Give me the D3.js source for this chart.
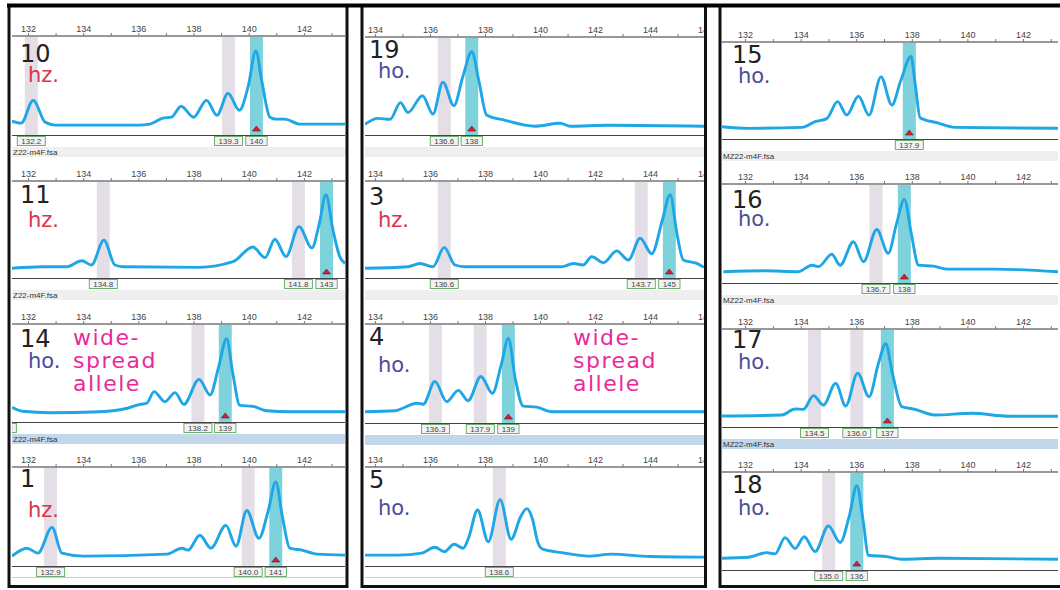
<!DOCTYPE html>
<html>
<head>
<meta charset="utf-8" />
<script src="https://cdn.jsdelivr.net/npm/d3@7"></script>
<style>
  body { margin: 0; background: #fff; }
  svg { display: block; }
  .tick text { font: 9px "Liberation Sans", Arial, sans-serif; fill: #444; }
</style>
</head>
<body>
<svg id="chart" width="1060" height="590"></svg>
<script>
// sample numbers and genotype calls, column by column (top to bottom)
var samples = [["10", "11", "14", "1"], ["19", "3", "4", "5"], ["15", "16", "17", "18"]];
var calls = [["hz.", "hz.", "ho.", "hz."], ["ho.", "hz.", "ho.", "ho."], ["ho.", "ho.", "ho.", "ho."]];
var widespread = ["14", "4"];
var fileNames = ["Z22-m4F.fsa", "", "MZ22-m4F.fsa"];

// traces: [size in bp, relative signal 0-100]
var trace10 = [[131.42,14],[131.75,12],[132.19,35],[132.62,13],[133.0,10],[134.5,10],[136.0,10],[136.42,11],[136.89,17],[137.2,18],[137.55,29],[138.0,18],[138.47,35],[138.85,20],[139.25,42],[139.66,25],[139.98,49],[140.26,85],[140.47,55],[140.77,18],[141.0,16],[141.3,16],[141.86,11],[143.49,11]];
var trace11 = [[131.42,10],[132.54,11.6],[133.4,11.6],[133.95,17.8],[134.3,13.4],[134.75,39],[135.15,13.4],[135.44,11.6],[138.2,11],[139.43,16.8],[140.15,32],[140.59,21],[140.95,40],[141.35,22],[141.82,53],[142.29,31],[142.55,55],[142.8,86],[143.05,50],[143.3,22],[143.49,15]];
var trace14 = [[131.42,15],[131.8,11],[132.8,9.5],[134.6,10.5],[135.6,14],[136.06,18],[136.3,19],[136.57,31],[136.96,20.7],[137.33,30],[137.65,18],[138.2,43.5],[138.6,27.5],[138.9,55],[139.2,85],[139.42,50],[139.68,17],[140.15,16],[140.65,11.5],[141.5,10.5],[143.49,10.5]];
var trace1 = [[131.42,10],[131.96,18],[132.36,13],[132.87,39],[133.23,13],[134.0,10],[137.03,12],[137.58,18],[137.8,16],[138.23,31],[138.63,18],[139.17,41],[139.54,20],[139.93,56],[140.37,28],[140.7,55],[140.98,85],[141.22,50],[141.49,18],[141.93,16],[142.47,12],[143.49,11]];
var trace19 = [[133.64,11],[134.1,17],[134.55,16],[134.93,33],[135.2,23],[135.73,40],[136.11,21.4],[136.47,54],[136.87,30],[137.2,60],[137.52,85],[137.78,55],[138.06,20.4],[138.73,15],[139.82,9],[140.73,12],[141.1,9],[142.5,10],[145.96,9]];
var trace3 = [[133.64,10],[135.2,11.6],[135.64,15],[136.11,11.6],[136.52,31.6],[136.91,13.4],[137.27,11.6],[140.79,11.6],[141.21,15],[141.57,13.4],[141.88,22],[142.3,15.8],[142.79,28],[143.21,18.5],[143.64,41],[144.06,25],[144.45,60],[144.73,86],[144.98,45],[145.21,18.5],[145.7,15],[145.96,11]];
var trace4 = [[133.64,11.4],[134.73,12.4],[135.52,20],[135.76,19],[136.18,42],[136.61,21.5],[137.03,33],[137.39,22.5],[137.85,47],[138.27,30],[138.6,60],[138.85,85.5],[139.1,45],[139.39,17],[139.88,16],[140.42,11.4],[145.96,11.4]];
var trace5 = [[133.64,11],[134.85,11],[135.7,13],[136.18,19],[136.52,14.5],[136.88,22],[137.21,18],[137.4,28],[137.73,56.5],[138.12,24.5],[138.55,67],[138.95,27],[139.3,50],[139.52,58],[139.72,48],[139.92,24],[140.1,17],[140.79,13.5],[141.76,10],[142.61,12],[144.0,9.6],[145.96,9]];
var trace15 = [[131.17,12.7],[132.12,11],[134.04,12],[134.52,17.8],[134.94,21],[135.33,38.5],[135.66,24.7],[136.08,44],[136.46,24.7],[136.89,64],[137.28,35],[137.6,60],[137.97,85],[138.12,57],[138.3,22],[138.9,16.8],[139.55,12],[143.26,11]];
var trace16 = [[131.22,11.4],[132.72,12.4],[133.92,11.4],[134.4,18],[134.64,16.5],[135.12,29],[135.42,18],[135.9,41.7],[136.26,21.5],[136.74,54],[137.15,30],[137.45,60],[137.73,84.5],[137.98,50],[138.24,18],[138.77,17],[139.31,14],[141.0,14],[143.26,11.4]];
var trace17 = [[131.17,11.2],[133.32,12.2],[133.8,18.4],[134.1,18],[134.46,32],[134.82,22.4],[135.26,44.5],[135.62,21.4],[136.05,55],[136.46,31],[136.8,65],[137.06,85],[137.3,55],[137.64,20.8],[138.12,18],[138.83,12.2],[140.15,14],[141.5,11],[143.26,11]];
var trace18 = [[131.17,12],[132.12,13],[132.78,17.7],[133.08,16.5],[133.44,33],[133.8,22],[134.13,34],[134.52,18.7],[135.0,45],[135.42,28],[135.75,55],[136.02,86],[136.25,50],[136.44,15],[137.1,13.6],[137.64,11],[139.0,12],[143.26,11]];

// bins: [centre bp, label, called allele]
var bins10 = [[132.12,"132.2",0],[139.27,"139.3",0],[140.28,"140",1]];
var bins11 = [[134.73,"134.8",0],[141.8,"141.8",0],[142.82,"143",1]];
var bins14 = [[131.07,"131.0",0],[138.16,"138.2",0],[139.15,"139",1]];
var bins1 = [[132.82,"132.9",0],[139.98,"140.0",0],[140.98,"141",1]];
var bins19 = [[136.52,"136.6",0],[137.52,"138",1]];
var bins3 = [[136.52,"136.6",0],[143.68,"143.7",0],[144.7,"145",1]];
var bins4 = [[136.2,"136.3",0],[137.83,"137.9",0],[138.85,"139",1]];
var bins5 = [[138.52,"138.6",0]];
var bins15 = [[137.91,"137.9",1]];
var bins16 = [[136.71,"136.7",0],[137.73,"138",1]];
var bins17 = [[134.5,"134.5",0],[136.02,"136.0",0],[137.12,"137",1]];
var bins18 = [[135.01,"135.0",0],[136.02,"136",1]];

var traces = {"10": trace10, "11": trace11, "14": trace14, "1": trace1, "19": trace19, "3": trace3,
  "4": trace4, "5": trace5, "15": trace15, "16": trace16, "17": trace17, "18": trace18};
var bins = {"10": bins10, "11": bins11, "14": bins14, "1": bins1, "19": bins19, "3": bins3,
  "4": bins4, "5": bins5, "15": bins15, "16": bins16, "17": bins17, "18": bins18};

// layout of the three screenshot columns
var cols = [
  { x0: 12, x1: 345, dom: [131.42, 143.49], rows: [[36, 135], [181, 278], [324, 422], [467, 566]], frame: [9, 347], numX: 8, callX: 16, wideX: 61 },
  { x0: 365, x1: 704, dom: [133.64, 145.96], rows: [[37, 135], [181, 278], [324, 423], [467, 566]], frame: [362, 705.5], numX: 4, callX: 13, wideX: 208 },
  { x0: 722, x1: 1058, dom: [131.17, 143.26], rows: [[42, 139], [184, 283], [329, 427], [472, 570]], frame: [720, 1063], numX: 10, callX: 16, wideX: 0 }
];
var textDy = [[[26, 46], [22, 46], [23, 44], [20, 50]],
              [[21, 41], [24, 46], [21, 48], [21, 48]],
              [[21, 41], [24, 42], [19, 40], [21, 43]]];
var binW = 0.47;

var svg = d3.select("#chart");
var defs = svg.append("defs");

var line = d3.line().curve(d3.curveMonotoneX);

cols.forEach(function (c, ci) {
  var x = d3.scaleLinear().domain(c.dom).range([c.x0, c.x1]);
  defs.append("clipPath").attr("id", "clip" + ci)
    .append("rect").attr("x", c.x0).attr("y", 0).attr("width", c.x1 - c.x0).attr("height", 590);

  c.rows.forEach(function (r, ri) {
    var id = samples[ci][ri];
    var top = r[0], bot = r[1];
    var y = d3.scaleLinear().domain([0, 100]).range([bot, top]);
    var g = svg.append("g").attr("clip-path", "url(#clip" + ci + ")");

    // bins
    g.selectAll("rect.bin").data(bins[id]).enter().append("rect")
      .attr("class", "bin")
      .attr("x", function (d) { return x(d[0] - binW / 2); })
      .attr("width", x(c.dom[0] + binW) - x(c.dom[0]))
      .attr("y", top + 1)
      .attr("height", bot - top - 1)
      .attr("fill", function (d) { return d[2] ? "#7dd2dc" : "#e4dee7"; });

    // top axis
    var ax = g.append("g").attr("transform", "translate(0," + top + ")")
      .call(d3.axisTop(x)
        .tickValues(d3.range(Math.ceil(c.dom[0] - 1), c.dom[1] + 0.3, 1))
        .tickSize(3).tickPadding(1).tickSizeOuter(0)
        .tickFormat(function (d) { return d % 2 === 0 ? d : ""; }));
    ax.select(".domain").attr("stroke", "#333").attr("d", "M" + c.x0 + ",0H" + c.x1);
    ax.selectAll(".tick line").attr("stroke", "#777");

    // baseline
    g.append("line").attr("x1", c.x0).attr("x2", c.x1).attr("y1", bot + 0.5).attr("y2", bot + 0.5)
      .attr("stroke", "#444");

    // trace
    g.append("path").datum(traces[id].map(function (d) { return [x(d[0]), y(d[1])]; }))
      .attr("d", line)
      .attr("fill", "none")
      .attr("stroke", "#1ea6e6")
      .attr("stroke-width", 2.9)
      .attr("stroke-linejoin", "round");

    // called allele markers
    g.selectAll("path.mark").data(bins[id].filter(function (d) { return d[2]; })).enter().append("path")
      .attr("class", "mark")
      .attr("d", function (d) {
        var cx = x(d[0]), by = bot - 4;
        return "M" + (cx - 4) + "," + by + "L" + (cx + 4) + "," + by + "L" + cx + "," + (by - 5) + "Z";
      })
      .attr("fill", "#d42030").attr("stroke", "#7a1010").attr("stroke-width", 0.6);

    // size labels
    bins[id].forEach(function (d) {
      var lg = g.append("g");
      var t = lg.append("text").text(d[1])
        .attr("x", x(d[0])).attr("y", bot + 8.5)
        .attr("text-anchor", "middle")
        .style("font", "8px 'Liberation Sans', Arial, sans-serif")
        .attr("fill", "#444");
      var w = t.node().getComputedTextLength();
      lg.insert("rect", "text")
        .attr("x", x(d[0]) - w / 2 - 4).attr("width", w + 8)
        .attr("y", bot + 1.5).attr("height", 9)
        .attr("fill", "#f3f3f3").attr("stroke", "#5fa55f").attr("stroke-width", 0.9);
    });

    // file strip below the panel
    if (ri < 3) {
      g.append("rect").attr("x", c.x0).attr("width", c.x1 - c.x0)
        .attr("y", bot + 12).attr("height", 10)
        .attr("fill", ri < 2 ? "#efefef" : "#c3d7ea");
      if (fileNames[ci]) {
        g.append("text").text(fileNames[ci])
          .attr("x", c.x0 + 1).attr("y", bot + 20)
          .style("font", "8px 'Liberation Sans', Arial, sans-serif")
          .attr("fill", "#333");
      }
    } else if (ci < 2) {
      g.append("line").attr("x1", c.x0).attr("x2", c.x1).attr("y1", bot + 11.5).attr("y2", bot + 11.5)
        .attr("stroke", "#c2cfdc");
    }

    // annotations
    var dy = textDy[ci][ri];
    svg.append("text").text(id)
      .attr("x", c.x0 + c.numX).attr("y", top + dy[0])
      .style("font", "24px 'DejaVu Sans', sans-serif").attr("fill", "#222");
    svg.append("text").text(calls[ci][ri])
      .attr("x", c.x0 + c.callX).attr("y", top + dy[1])
      .style("font", "21px 'DejaVu Sans', sans-serif")
      .attr("fill", calls[ci][ri] === "hz." ? "#dc3348" : "#4a4c9c");
    if (widespread.indexOf(id) >= 0) {
      ["wide-", "spread", "allele"].forEach(function (s, k) {
        svg.append("text").text(s)
          .attr("x", c.x0 + c.wideX).attr("y", top + 21 + k * 23)
          .style("font", "22px 'DejaVu Sans', sans-serif")
          .style("letter-spacing", "1.5px")
          .attr("fill", "#ea2a9a");
      });
    }
  });

  // column frame
  svg.append("rect")
    .attr("x", c.frame[0]).attr("y", 5.5)
    .attr("width", c.frame[1] - c.frame[0]).attr("height", 581)
    .attr("fill", "none").attr("stroke", "#111").attr("stroke-width", 3);
});

// thick line across the top
svg.append("line").attr("x1", 7).attr("x2", 1060).attr("y1", 5.5).attr("y2", 5.5)
  .attr("stroke", "#000").attr("stroke-width", 4);
</script>
</body>
</html>
